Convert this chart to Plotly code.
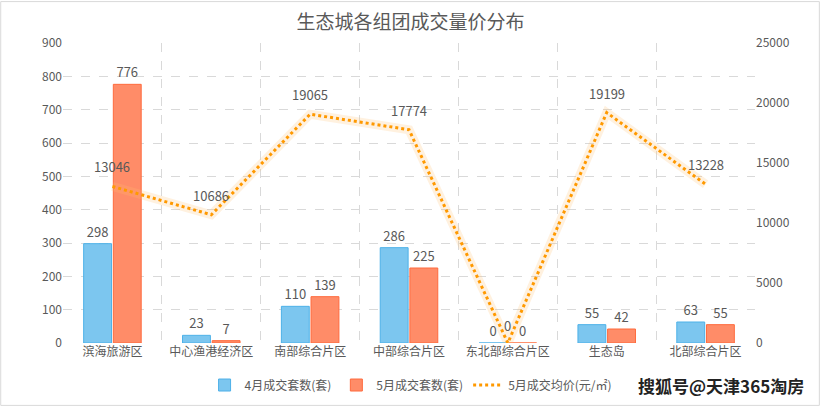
import plotly.graph_objects as go

categories = ["滨海旅游区", "中心渔港经济区", "南部综合片区", "中部综合片区", "东北部综合片区", "生态岛", "北部综合片区"]
april_units = [298, 23, 110, 286, 0, 55, 63]
may_units = [776, 7, 139, 225, 0, 42, 55]
may_price = [13046, 10686, 19065, 17774, 0, 19199, 13228]

left_ticks = list(range(0, 901, 100))
right_ticks = list(range(0, 25001, 5000))

txt = "#595959"
fnt = "Noto Sans CJK SC, Noto Sans, sans-serif"

fig = go.Figure()
fig.add_trace(go.Bar(
    x=categories, y=april_units, name="4月成交套数(套)",
    marker=dict(color="#7CC6EF", line=dict(color="#4DB1E8", width=1)),
    text=april_units, textposition="outside",
    textfont=dict(color=txt, size=13), cliponaxis=False,
))
fig.add_trace(go.Bar(
    x=categories, y=may_units, name="5月成交套数(套)",
    marker=dict(color="#FF8C68", line=dict(color="#FF6A3D", width=1)),
    text=may_units, textposition="outside",
    textfont=dict(color=txt, size=13), cliponaxis=False,
))
fig.add_trace(go.Scatter(
    x=categories, y=may_price, yaxis="y2", mode="lines",
    line=dict(color="rgba(255,190,110,0.22)", width=9),
    showlegend=False, hoverinfo="skip",
))
fig.add_trace(go.Scatter(
    x=categories, y=may_price, yaxis="y2", mode="lines",
    name="5月成交均价(元/㎡)",
    line=dict(color="#FF9900", width=3, dash="dot"),
    cliponaxis=False,
))
for c, v in zip(categories, may_price):
    fig.add_annotation(x=c, y=v, yref="y2", text=str(v), showarrow=False,
                       yanchor="bottom", yshift=8 if v > 0 else 6,
                       font=dict(color=txt, size=13))

fig.update_layout(
    width=821, height=407,
    paper_bgcolor="white", plot_bgcolor="white",
    font=dict(family=fnt, color=txt, size=12),
    title=dict(text="生态城各组团成交量价分布", x=0.5, xanchor="center", y=0.945, yanchor="middle",
               font=dict(size=19, color=txt)),
    margin=dict(l=63, r=66, t=43, b=64, autoexpand=False),
    barmode="group", bargap=0.4, bargroupgap=0.06,
    xaxis=dict(showgrid=True, gridcolor="#D9D9D9", griddash="dash", tickson="boundaries",
               ticks="", showline=False, tickfont=dict(size=12, color=txt), tickangle=0,
               automargin=False),
    yaxis=dict(range=[0, 900], tickvals=left_ticks, showgrid=True, gridcolor="#D9D9D9",
               griddash="dash", zeroline=False, ticks="", tickfont=dict(size=12, color=txt),
               showline=False, automargin=False),
    yaxis2=dict(range=[0, 25000], tickvals=right_ticks, ticktext=[str(v) for v in right_ticks],
                overlaying="y", side="right", showgrid=False, zeroline=False,
                tickfont=dict(size=12, color=txt), automargin=False),
    legend=dict(orientation="h", x=0.503, xanchor="center", yref="container", y=0.054,
                yanchor="middle", font=dict(size=12, color=txt), itemwidth=30,
                tracegroupgap=0),
    showlegend=True,
)
fig.add_annotation(text="<b>搜狐号@天津365淘房</b>", xref="paper", yref="paper",
                   x=1.074, xanchor="right", y=-0.14, yanchor="middle", showarrow=False,
                   font=dict(size=17, color="#222222", family=fnt))
fig.add_shape(type="rect", xref="paper", yref="paper", x0=-0.09, x1=1.093, y0=-0.208, y1=1.138,
              line=dict(color="#D9D9D9", width=1))
fig.write_html("out.html", config={"displayModeBar": False},
               post_script="document.body.style.margin='0px';document.body.style.overflow='hidden';")
